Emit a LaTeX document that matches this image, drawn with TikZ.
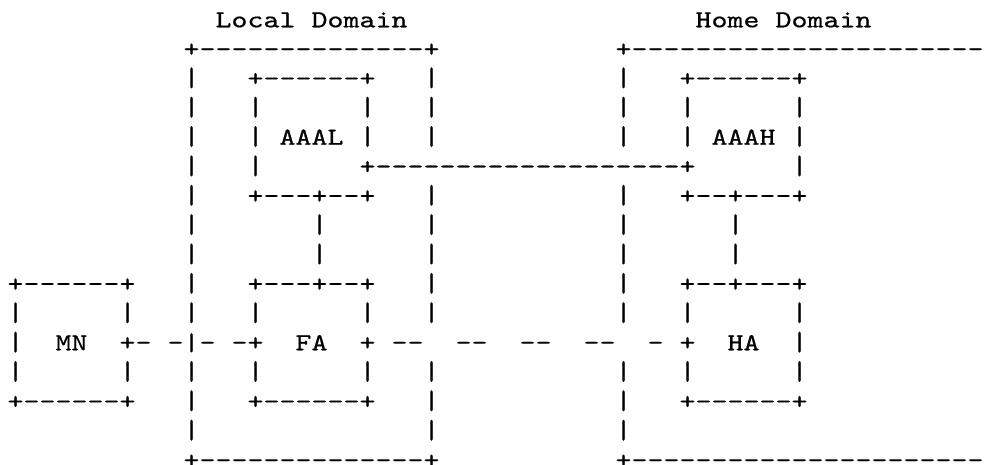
\documentclass[tikz,border=0pt]{standalone}
\usepackage{graphicx}
\font\ascfont="[lmmono10-regular.otf]:embolden=0.5;extend=1.24393" at 24.5pt
\newcommand\tenD{----------}
\newcommand\sixD{------}
\tikzset{asc/.style={anchor=base west, inner sep=0pt, outer sep=0pt, font=\ascfont}}
\newcommand\tx[4]{\node[asc] (#1) at ({7.5+16*(#2)},{-27.3-29.36*(#3)}) {#4};}
\newcommand\vb[3]{\node[asc] (#1) at ({7.5+16*(#2)},{-27.3-29.36*(#3)}) {\scalebox{1}[1.09]{|}};}
\begin{document}
\begin{tikzpicture}[x=1pt,y=1pt]
\fill[white] (0,0) rectangle (990,-464);
\useasboundingbox (0,0) rectangle (990,-464);
\clip (0,0) rectangle (990,-464);
% titles
\tx{localdom}{13}{0}{Local Domain}
\tx{homedom}{43}{0}{Home Domain}
% domain boxes top / bottom
\tx{ltop}{11}{1}{+\tenD----+}
\tx{htop}{38}{1}{+\tenD\tenD--}
\tx{lbot}{11}{15}{+\tenD----+}
\tx{hbot}{38}{15}{+\tenD\tenD--}
% AAAL / AAAH boxes
\tx{aaaltop}{15}{2}{+\sixD+}
\tx{aaahtop}{42}{2}{+\sixD+}
\tx{aaal}{17}{4}{AAAL}
\tx{aaah}{44}{4}{AAAH}
\tx{aaaconn}{22}{5}{+\tenD\sixD---+}
\tx{aaalbot}{15}{6}{+---+--+}
\tx{aaahbot}{42}{6}{+--+---+}
% FA / HA / MN boxes
\tx{mntop}{0}{9}{+\sixD+}
\tx{fatop}{15}{9}{+---+--+}
\tx{hatop}{42}{9}{+--+---+}
\tx{mn}{3}{11}{MN}
\tx{mnfa}{7}{11}{+- -|- -+}
\tx{fa}{18}{11}{FA}
\tx{faright}{22}{11}{+}
\tx{d1}{24}{11}{--}
\tx{d2}{28}{11}{--}
\tx{d3}{32}{11}{--}
\tx{d4}{36}{11}{--}
\tx{d5}{40}{11}{-}
\tx{haleft}{42}{11}{+}
\tx{ha}{45}{11}{HA}
\tx{mnbot}{0}{13}{+\sixD+}
\tx{fabot}{15}{13}{+\sixD+}
\tx{habot}{42}{13}{+\sixD+}
% vertical bars
\foreach \c/\r in {11/2,26/2,38/2,
  11/3,15/3,22/3,26/3,38/3,42/3,49/3,
  11/4,15/4,22/4,26/4,38/4,42/4,49/4,
  11/5,15/5,49/5,
  11/6,26/6,38/6,
  11/7,19/7,26/7,38/7,45/7,
  11/8,19/8,26/8,38/8,45/8,
  11/9,26/9,38/9,
  0/10,7/10,11/10,15/10,22/10,26/10,38/10,42/10,49/10,
  0/11,49/11,
  0/12,7/12,11/12,15/12,22/12,26/12,38/12,42/12,49/12,
  11/13,26/13,38/13,
  11/14,26/14,38/14}
  {\vb{v\c-\r}{\c}{\r}}
\end{tikzpicture}
\end{document}
